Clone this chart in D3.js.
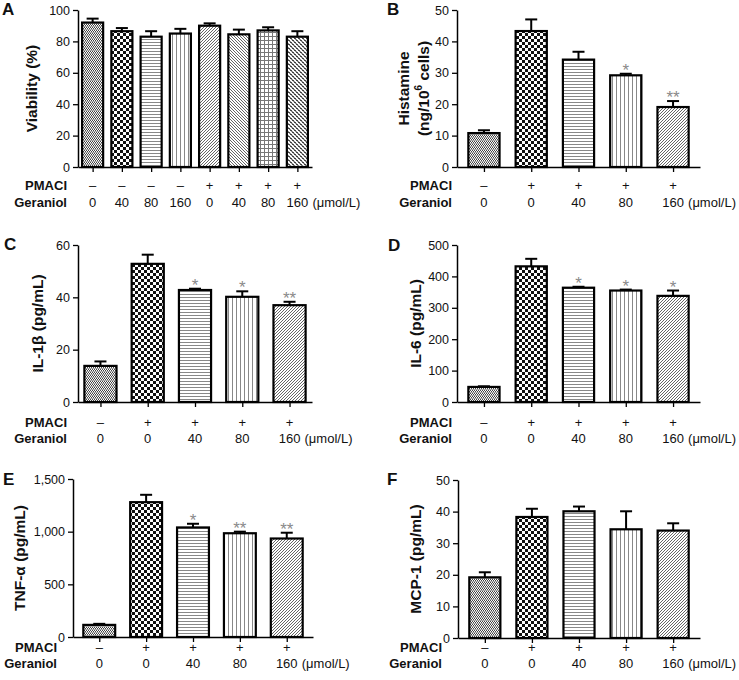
<!DOCTYPE html>
<html><head><meta charset="utf-8">
<script src="https://cdn.jsdelivr.net/npm/d3@7"></script>
<style>
body{margin:0;background:#fff}
svg{display:block}
text{font-family:"Liberation Sans",Arial,Helvetica,sans-serif;fill:#111}
</style>
</head><body>
<svg id="chart" width="739" height="680"></svg>
<script>
// ---------- data ----------
const pmaciA    = ["–","–","–","–","+","+","+","+"];
const geraniolA = ["0","40","80","160","0","40","80","160"];
const viability    = [92, 86.5, 83, 85, 90, 84.5, 87, 83];
const viabilityErr = [2.5, 2, 3.5, 3, 1.5, 3, 2, 3.5];
const viabilitySig = ["","","","","","","",""];
const viabilityTicks = [0,20,40,60,80,100];

const pmaci5    = ["–","+","+","+","+"];
const geraniol5 = ["0","0","40","80","160"];
const unitLabel = "(μmol/L)";

const histamine    = [10.8, 43.3, 34.2, 29.2, 19.1];
const histamineErr = [0.9, 3.7, 2.5, 0.5, 1.9];
const histamineSig = ["","","","*","**"];
const histamineTicks = [0,10,20,30,40,50];

const il1b    = [13.8, 52.8, 42.8, 40.2, 37.0];
const il1bErr = [1.7, 3.5, 0.5, 2.1, 1.3];
const il1bSig = ["","","*","*","**"];
const il1bTicks = [0,20,40,60];

const il6    = [48, 432, 364, 355, 338];
const il6Err = [2, 24, 3, 3, 17];
const il6Sig = ["","","*","*","*"];
const il6Ticks = [0,100,200,300,400,500];

const tnf    = [115, 1280, 1040, 985, 935];
const tnfErr = [10, 70, 35, 15, 55];
const tnfSig = ["","","*","**","**"];
const tnfTicks = [0,500,1000,1500];

const mcp1    = [19.2, 38.3, 40.1, 34.4, 34.0];
const mcp1Err = [1.6, 2.6, 1.5, 5.7, 2.3];
const mcp1Sig = ["","","","",""];
const mcp1Ticks = [0,10,20,30,40,50];

const patternsA = ["pStip","pCheck","pHoriz","pVert","pDiagR","pDiagL","pGrid","pDots"];
const patterns5 = ["pStip","pCheck","pHoriz","pVert","pDiagR"];

// ---------- layout ----------
const panels = [
  {letter:"A", lx:2,  ly:15, x0:78,  x1:312, yTop:10,  yBot:167, ticks:viabilityTicks, fmt:d3.format("d"),
   values:viability, err:viabilityErr, sig:viabilitySig, pmaci:pmaciA, ger:geraniolA, pats:patternsA,
   pad:0.5, barFrac:0.72, label:["Viability (%)"], labX:[31], rowX:67, rowY:[185,202]},
  {letter:"B", lx:387, ly:15, x0:457, x1:700, yTop:10, yBot:167, ticks:histamineTicks, fmt:d3.format("d"),
   values:histamine, err:histamineErr, sig:histamineSig, pmaci:pmaci5, ger:geraniol5, pats:patterns5,
   pad:0.57, barFrac:0.66, label:["Histamine","(ng/10|6| cells)"], labX:[403,423], rowX:452, rowY:[185,202]},
  {letter:"C", lx:4,  ly:250, x0:78, x1:312, yTop:245, yBot:402, ticks:il1bTicks, fmt:d3.format("d"),
   values:il1b, err:il1bErr, sig:il1bSig, pmaci:pmaci5, ger:geraniol5, pats:patterns5,
   pad:0.475, barFrac:0.68, label:["IL-1β (pg/mL)"], labX:[37], rowX:67, rowY:[422,438]},
  {letter:"D", lx:388, ly:251, x0:457, x1:700, yTop:245, yBot:402, ticks:il6Ticks, fmt:d3.format("d"),
   values:il6, err:il6Err, sig:il6Sig, pmaci:pmaci5, ger:geraniol5, pats:patterns5,
   pad:0.57, barFrac:0.66, label:["IL-6 (pg/mL)"], labX:[415], rowX:452, rowY:[422,438]},
  {letter:"E", lx:3,  ly:485, x0:73, x1:313, yTop:479, yBot:637, ticks:tnfTicks, fmt:d3.format(","),
   values:tnf, err:tnfErr, sig:tnfSig, pmaci:pmaci5, ger:geraniol5, pats:patterns5,
   pad:0.56, barFrac:0.68, label:["TNF-α (pg/mL)"], labX:[19], rowX:57, rowY:[647,663]},
  {letter:"F", lx:387, ly:485, x0:458, x1:700, yTop:480, yBot:638, ticks:mcp1Ticks, fmt:d3.format("d"),
   values:mcp1, err:mcp1Err, sig:mcp1Sig, pmaci:pmaci5, ger:geraniol5, pats:patterns5,
   pad:0.57, barFrac:0.66, label:["MCP-1 (pg/mL)"], labX:[415], rowX:442, rowY:[647,663]}
];

const svg = d3.select("#chart");
const defs = svg.append("defs");

// ---------- patterns ----------
function pat(id, w, h){
  const p = defs.append("pattern").attr("id", id).attr("patternUnits","userSpaceOnUse")
    .attr("width", w).attr("height", h);
  p.append("rect").attr("width", w).attr("height", h).attr("fill","#fff");
  return p;
}
{ // fine stipple
  const p = pat("pStip", 2, 3);
  p.append("rect").attr("x",0).attr("y",0).attr("width",1).attr("height",1).attr("fill","#444");
  p.append("rect").attr("x",1).attr("y",1).attr("width",1).attr("height",1).attr("fill","#444");
  p.append("rect").attr("x",0).attr("y",2).attr("width",2).attr("height",1).attr("fill","#aaa");
}
{ // checkerboard
  const p = pat("pCheck", 6, 6);
  p.append("rect").attr("x",0).attr("y",0).attr("width",3).attr("height",3).attr("fill","#111");
  p.append("rect").attr("x",3).attr("y",3).attr("width",3).attr("height",3).attr("fill","#111");
}
{ // horizontal lines
  const p = pat("pHoriz", 4, 3);
  p.append("rect").attr("x",0).attr("y",0).attr("width",4).attr("height",1).attr("fill","#888");
}
{ // vertical lines
  const p = pat("pVert", 4, 4);
  p.append("rect").attr("x",0).attr("y",0).attr("width",1).attr("height",4).attr("fill","#888");
}
{ // diagonal /
  const p = pat("pDiagR", 3, 3);
  p.append("path").attr("d","M-1,1 L1,-1 M0,3 L3,0 M2,4 L4,2").attr("stroke","#555").attr("stroke-width",0.9);
}
{ // diagonal \
  const p = pat("pDiagL", 3, 3);
  p.append("path").attr("d","M-1,2 L1,4 M0,0 L3,3 M2,-1 L4,1").attr("stroke","#555").attr("stroke-width",0.9);
}
{ // grid
  const p = pat("pGrid", 4, 4);
  p.append("rect").attr("x",0).attr("y",0).attr("width",4).attr("height",1).attr("fill","#777");
  p.append("rect").attr("x",0).attr("y",0).attr("width",1).attr("height",4).attr("fill","#777");
}
{ // dotted diagonal
  const p = pat("pDots", 4, 4);
  p.append("rect").attr("x",0).attr("y",0).attr("width",2).attr("height",1).attr("fill","#444");
  p.append("rect").attr("x",1).attr("y",1).attr("width",2).attr("height",1).attr("fill","#888");
  p.append("rect").attr("x",2).attr("y",2).attr("width",2).attr("height",1).attr("fill","#444");
  p.append("rect").attr("x",3).attr("y",3).attr("width",1).attr("height",1).attr("fill","#888");
  p.append("rect").attr("x",0).attr("y",3).attr("width",1).attr("height",1).attr("fill","#888");
}

// ---------- draw ----------
panels.forEach(P => {
  const g = svg.append("g");
  const n = P.values.length;
  const idx = d3.range(n);
  const x = d3.scalePoint().domain(idx).range([P.x0, P.x1]).padding(P.pad);
  const y = d3.scaleLinear().domain([0, d3.max(P.ticks)]).range([P.yBot, P.yTop]);
  const bw = x.step() * P.barFrac;

  // bars
  g.selectAll("rect.bar").data(idx).join("rect")
    .attr("class","bar")
    .attr("x", i => x(i) - bw/2)
    .attr("y", i => y(P.values[i]))
    .attr("width", bw)
    .attr("height", i => y(0) - y(P.values[i]))
    .attr("fill", i => `url(#${P.pats[i]})`)
    .attr("stroke","#000").attr("stroke-width",2.2);

  // error bars
  const eb = g.selectAll("g.eb").data(idx).join("g").attr("class","eb");
  eb.append("line")
    .attr("x1", i => x(i)).attr("x2", i => x(i))
    .attr("y1", i => y(P.values[i])).attr("y2", i => y(P.values[i] + P.err[i]))
    .attr("stroke","#000").attr("stroke-width",2);
  eb.append("line")
    .attr("x1", i => x(i) - 6).attr("x2", i => x(i) + 6)
    .attr("y1", i => y(P.values[i] + P.err[i])).attr("y2", i => y(P.values[i] + P.err[i]))
    .attr("stroke","#000").attr("stroke-width",2);

  // significance
  g.selectAll("text.sig").data(idx.filter(i => P.sig[i])).join("text")
    .attr("class","sig")
    .attr("x", i => x(i)).attr("y", i => y(P.values[i] + P.err[i]) + 2)
    .attr("text-anchor","middle").style("font-size","17px").style("fill","#8a8a8a")
    .text(i => P.sig[i]);

  // y axis
  const ya = g.append("g").attr("transform",`translate(${P.x0},0)`)
    .call(d3.axisLeft(y).tickValues(P.ticks).tickFormat(P.fmt).tickSize(5).tickSizeOuter(0).tickPadding(3));
  ya.select(".domain").attr("stroke","#000").attr("stroke-width",1.5);
  ya.selectAll(".tick line").attr("stroke","#000").attr("stroke-width",1.3);
  ya.selectAll(".tick text").style("font-size","12.5px").style("font-family","Liberation Sans, Arial, sans-serif").attr("fill","#222");

  // x axis
  const xa = g.append("g").attr("transform",`translate(0,${P.yBot})`)
    .call(d3.axisBottom(x).tickFormat("").tickSize(5).tickSizeOuter(0));
  xa.select(".domain").attr("stroke","#000").attr("stroke-width",1.5);
  xa.selectAll(".tick line").attr("stroke","#000").attr("stroke-width",1.3);

  // category rows
  g.append("text").attr("x", P.rowX).attr("y", P.rowY[0] + 4.5).attr("text-anchor","end")
    .style("font-size","13px").style("font-weight","bold").text("PMACI");
  g.append("text").attr("x", P.rowX).attr("y", P.rowY[1] + 4.5).attr("text-anchor","end")
    .style("font-size","13px").style("font-weight","bold").text("Geraniol");
  g.selectAll("text.pm").data(idx).join("text").attr("class","pm")
    .attr("x", i => x(i)).attr("y", P.rowY[0] + 4.5).attr("text-anchor","middle")
    .style("font-size","13px").text(i => P.pmaci[i]);
  g.selectAll("text.ge").data(idx).join("text").attr("class","ge")
    .attr("x", i => x(i)).attr("y", P.rowY[1] + 4.5).attr("text-anchor","middle")
    .style("font-size","13px").text(i => P.ger[i]);
  g.append("text").attr("x", x(n-1) + 15).attr("y", P.rowY[1] + 4.5)
    .style("font-size","13px").text(unitLabel);

  // y label
  const cy = (P.yTop + P.yBot) / 2;
  P.label.forEach((lab, k) => {
    const t = g.append("text")
      .attr("transform", `translate(${P.labX[k]},${cy}) rotate(-90)`)
      .attr("text-anchor","middle").attr("dominant-baseline","central")
      .style("font-size","15.5px").style("font-weight","bold");
    const parts = lab.split("|");
    if (parts.length === 1) t.text(lab);
    else {
      t.append("tspan").text(parts[0]);
      t.append("tspan").attr("dy",-5).style("font-size","10px").text(parts[1]);
      t.append("tspan").attr("dy",5).text(parts[2]);
    }
  });

  // panel letter
  svg.append("text").attr("x", P.lx).attr("y", P.ly)
    .style("font-size","17px").style("font-weight","bold").text(P.letter);
});
</script>
</body></html>
